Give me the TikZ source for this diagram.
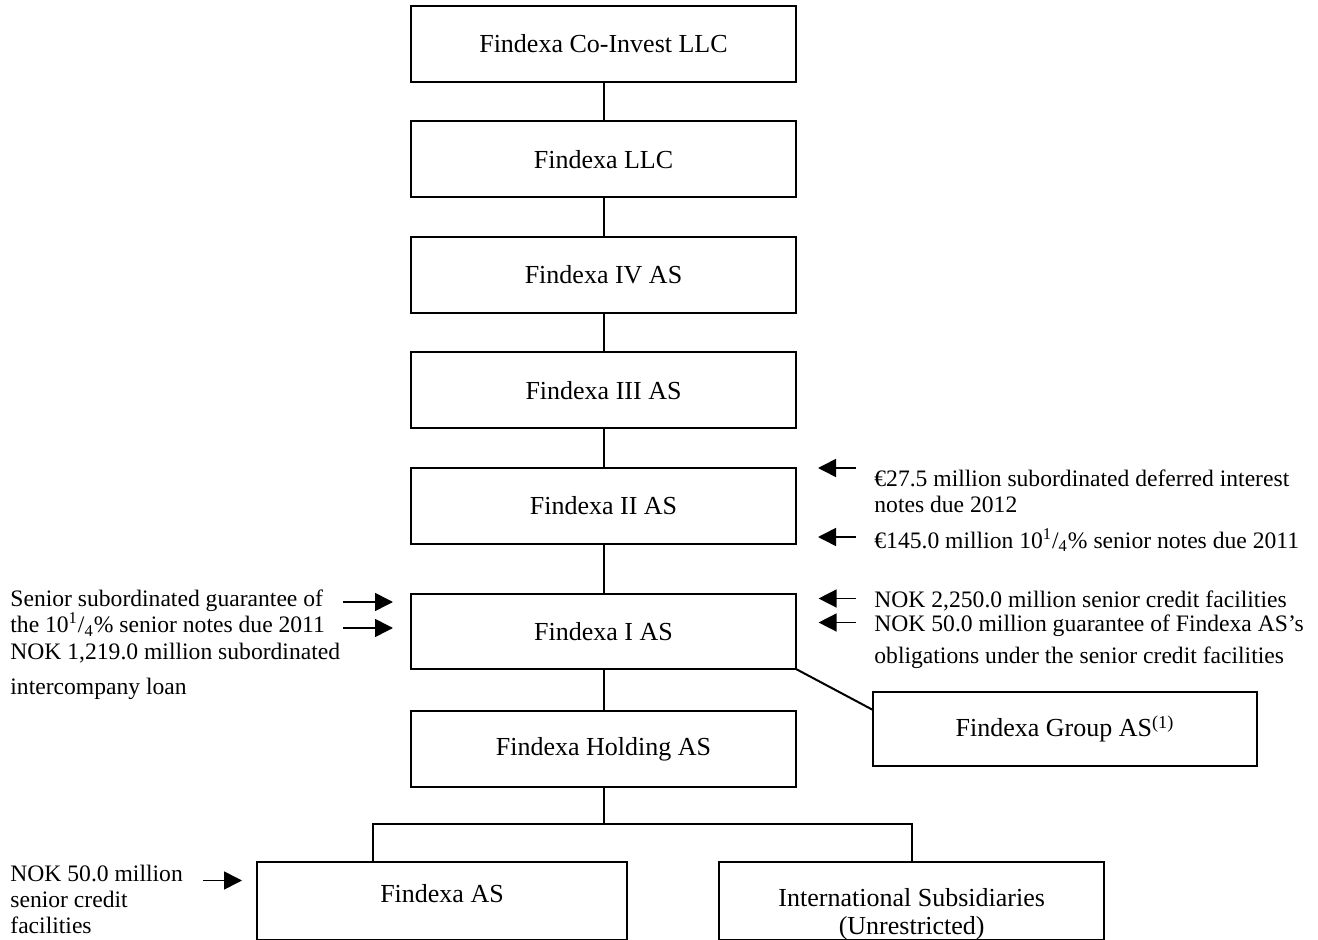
\documentclass[tikz,border=0pt]{standalone}
\usepackage{fontspec}
\setmainfont{Liberation Serif}
\usetikzlibrary{positioning, arrows.meta}

\tikzset{
  entity/.style={draw, line width=1pt, outer sep=0pt, inner sep=0pt,
    minimum width=192.5pt, minimum height=38pt, font=\fontsize{13}{14}\selectfont},
  link/.style={line width=1pt},
  note/.style={anchor=north west, inner sep=0pt, align=left,
    font=\fontsize{11.8}{13.25}\selectfont},
  feed/.style={-{Triangle[length=9pt,width=9pt]}, line width=0.8pt},
}

\begin{document}
\begin{tikzpicture}[x=0.5pt, y=-0.5pt]
\useasboundingbox (0,0) rectangle (1318,940);

% ownership chain
\node[entity] (coinv) at (603.5,44) {Findexa Co-Invest LLC};
\node[entity, below=19.75pt of coinv] (llc) {Findexa LLC};
\node[entity, below=19.75pt of llc] (iv) {Findexa IV AS};
\node[entity, below=19.75pt of iv] (iii) {Findexa III AS};
\node[entity, below=19.75pt of iii] (ii) {Findexa II AS};
\node[entity, below=25pt of ii, minimum height=37.5pt] (ias) {Findexa I AS};
\node[entity, below=21pt of ias] (hold) {Findexa Holding AS};
\node[entity, minimum width=192pt, minimum height=37pt] (grp) at (1065,729) {Findexa Group AS\textsuperscript{(1)}};
\node[entity, minimum width=185pt, minimum height=39pt, text depth=8pt] (fas) at (442,901) {Findexa AS};
\node[entity, minimum height=39pt, text height=9pt, text depth=4pt] (intl) at (911.7,901)
  {\begin{tabular}[t]{@{}c@{}}International Subsidiaries\\(Unrestricted)\end{tabular}};

\draw[link] (coinv) -- (llc);
\draw[link] (llc) -- (iv);
\draw[link] (iv) -- (iii);
\draw[link] (iii) -- (ii);
\draw[link] (ii) -- (ias);
\draw[link] (ias) -- (hold);
\draw[link] (ias.south east) -- ([yshift=9.5pt]grp.west);

\coordinate (lsplit) at (372.7,824);
\coordinate (rsplit) at (911.7,824);
\draw[link] (hold) -- (hold |- lsplit);
\draw[link] (fas.north -| lsplit) -- (lsplit) -- (rsplit) -- (intl.north);

% financing notes
\node[note] (sgnote) at (10,589) {Senior subordinated guarantee of\\the 10\textsuperscript{1}/\textsubscript{4}\% senior notes due 2011\\NOK 1,219.0 million subordinated\\[4.25pt]intercompany loan};
\node[note] (pikn) at (874,469) {€27.5 million subordinated deferred interest\\notes due 2012\\[4.5pt]€145.0 million 10\textsuperscript{1}/\textsubscript{4}\% senior notes due 2011};
\node[note, font=\fontsize{11.8}{12}\selectfont] (nokn) at (874,590) {NOK 2,250.0 million senior credit facilities\\NOK 50.0 million guarantee of Findexa AS's\\[4pt]obligations under the senior credit facilities};
\node[note, font=\fontsize{11.8}{13}\selectfont] (rcfn) at (10,865) {NOK 50.0 million\\senior credit\\facilities};

\draw[feed] ([xshift=-34pt,yshift=14.75pt]ias.west) -- ([xshift=-9pt,yshift=14.75pt]ias.west);
\draw[feed] ([xshift=-34pt,yshift=1.75pt]ias.west) -- ([xshift=-9pt,yshift=1.75pt]ias.west);
\draw[feed] ([xshift=30pt,yshift=19pt]ii.east) -- ([xshift=11pt,yshift=19pt]ii.east);
\draw[feed] ([xshift=30pt,yshift=-15.5pt]ii.east) -- ([xshift=11pt,yshift=-15.5pt]ii.east);
\draw[feed] ([xshift=30pt,yshift=16.5pt]ias.east) -- ([xshift=11.3pt,yshift=16.5pt]ias.east);
\draw[feed] ([xshift=30pt,yshift=4.5pt]ias.east) -- ([xshift=11.3pt,yshift=4.5pt]ias.east);
\draw[feed] ([xshift=-27pt,yshift=10.25pt]fas.west) -- ([xshift=-7.5pt,yshift=10.25pt]fas.west);

\end{tikzpicture}
\end{document}
